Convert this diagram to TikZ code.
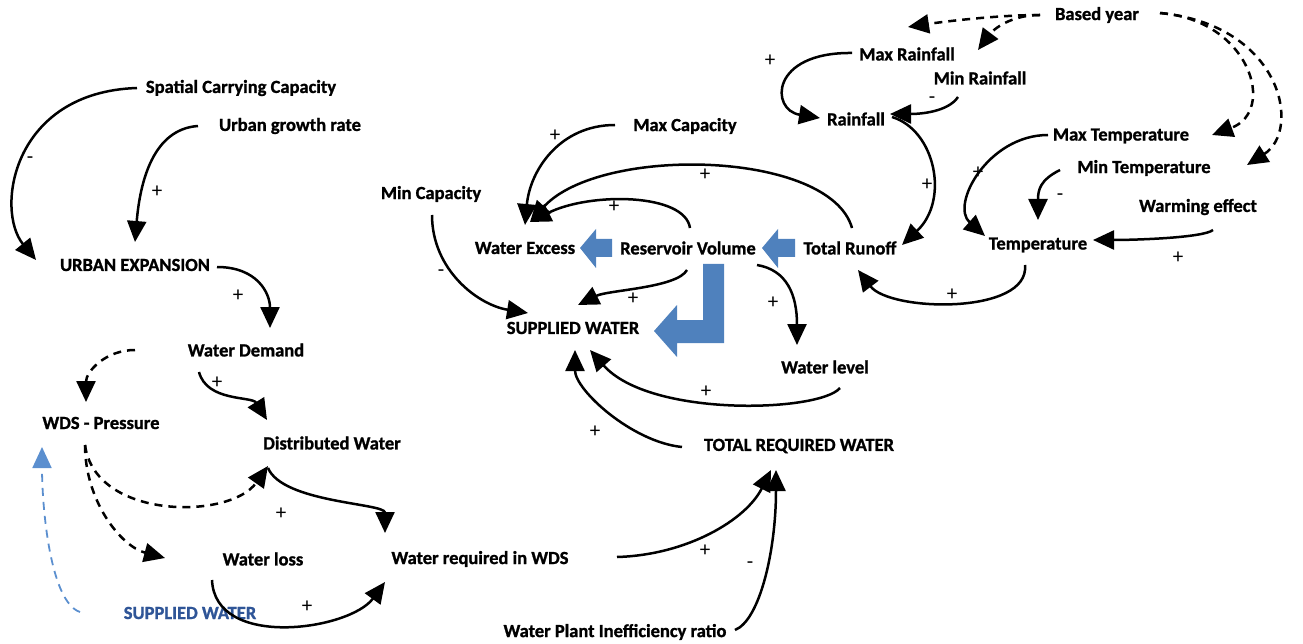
\documentclass[tikz,border=0pt]{standalone}
\usepackage{fontspec}
\setmainfont{Carlito}[BoldFeatures={FakeBold=1.2}]
\usetikzlibrary{arrows.meta,calc}
\definecolor{blk}{HTML}{4F81BD}
\definecolor{swtext}{HTML}{2F5597}
\definecolor{swline}{HTML}{5B8FCF}
\begin{document}
\begin{tikzpicture}[x=1pt,y=-1pt,
  lbl/.style={font=\fontsize{18.5}{20}\selectfont\bfseries, inner sep=1pt},
  sgn/.style={font=\fontsize{21}{21}\selectfont, inner sep=0pt},
  link/.style={line width=2.5pt,-{Triangle[length=21pt,width=19pt]}},
  dlink/.style={link,dash pattern=on 8pt off 6pt},
  blockarrow/.style={fill=blk,draw=none}]
\useasboundingbox (0,0) rectangle (1303,644);

% nodes
\node[lbl] (scc)  at (241,88)  {Spatial Carrying Capacity};
\node[lbl] (ugr)  at (290,126) {Urban growth rate};
\node[lbl] (ue)   at (135,265) {URBAN EXPANSION};
\node[lbl] (wd)   at (246,350) {Water Demand};
\node[lbl] (wdsp) at (101,423) {WDS - Pressure};
\node[lbl] (dw)   at (332,443) {Distributed Water};
\node[lbl] (wl)   at (263,559) {Water loss};
\node[lbl] (wrw)  at (480,559) {Water required in WDS};
\node[lbl,text=swtext] (sw2) at (190,613) {SUPPLIED WATER};
\node[lbl] (wpir) at (615,632) {Water Plant Inefficiency ratio};
\node[lbl] (trw)  at (799,446) {TOTAL REQUIRED WATER};
\node[lbl] (wlev) at (825,367) {Water level};
\node[lbl] (sw)   at (573,328) {SUPPLIED WATER};
\node[lbl] (wex)  at (525,248) {Water Excess};
\node[lbl] (rv)   at (688,248) {Reservoir Volume};
\node[lbl] (tr)   at (850,248) {Total Runoff};
\node[lbl] (minc) at (431,194) {Min Capacity};
\node[lbl] (maxc) at (685,126) {Max Capacity};
\node[lbl] (rain) at (856,119) {Rainfall};
\node[lbl] (maxr) at (907,54)  {Max Rainfall};
\node[lbl] (minr) at (980,78)  {Min Rainfall};
\node[lbl] (by)   at (1097,15) {Based year};
\node[lbl] (maxt) at (1121,136) {Max Temperature};
\node[lbl] (mint) at (1144,168) {Min Temperature};
\node[lbl] (warm) at (1198,207) {Warming effect};
\node[lbl] (temp) at (1038,245) {Temperature};

% block arrows
\fill[blockarrow] (580,248) -- (596,229) -- (596,239) -- (612,239) -- (612,257) -- (596,257) -- (596,268) -- cycle;
\fill[blockarrow] (762,248) -- (778,229) -- (778,239) -- (795,239) -- (795,257) -- (778,257) -- (778,268) -- cycle;
\fill[blockarrow] (703,264) -- (724,264) -- (724,343) -- (677,343) -- (677,357) -- (654,331) -- (677,305) -- (677,320) -- (703,320) -- cycle;

% connectors
\draw[link] ($(scc)+(-104,0)$) .. controls +(-125,4) and +(-41,-50) .. ($(ue)+(-99,-5)$);
\draw[link] ($(ugr)+(-92,0)$) .. controls +(-45,3) and +(5,-60) .. ($(ue)+(0,-23)$);
\draw[link] ($(ue)+(82,2)$) .. controls +(40,0) and +(0,-35) .. ($(wd)+(24,-22)$);
\draw[dlink] ($(wd)+(-111,0)$) .. controls +(-30,0) and +(0,-30) .. ($(wdsp)+(-15,-21)$);
\draw[link] ($(wd)+(-47,22)$) .. controls +(8,30) and +(-15,-24) .. ($(dw)+(-65,-23)$);
\draw[dlink] ($(wdsp)+(-16,22)$) .. controls +(10,75) and +(-38,54) .. ($(dw)+(-64,23)$);
\draw[dlink] ($(wdsp)+(-16,22)$) .. controls +(0,55) and +(-45,-12) .. ($(wl)+(-98,-1)$);
\draw[link] ($(dw)+(-64,25)$) .. controls +(15,35) and +(0,-30) .. ($(wrw)+(-95,-26)$);
\draw[link] ($(wl)+(-51,21)$) .. controls +(3,70) and +(-35,48) .. ($(wrw)+(-95,23)$);
\draw[dlink,draw=swline,line width=1.8pt] ($(sw2)+(-110,-1)$) .. controls +(-30,-10) and +(0,60) .. ($(wdsp)+(-59,24)$);
\draw[link] ($(wrw)+(137,-2)$) .. controls +(70,-2) and +(-25,50) .. ($(trw)+(-28,24)$);
\draw[link] ($(wpir)+(120,-2)$) .. controls +(25,-10) and +(0,80) .. ($(trw)+(-23,24)$);
\draw[link] ($(trw)+(-117,1)$) .. controls +(-50,-5) and +(0,40) .. ($(sw)+(2,22)$);
\draw[link] ($(wlev)+(15,21)$) .. controls +(-20,24) and +(60,68) .. ($(sw)+(17,22)$);
\draw[link] ($(rv)+(69,17)$) .. controls +(30,5) and +(0,-50) .. ($(wlev)+(-28,-22)$);
\draw[link] ($(rv)+(-1,22)$) .. controls +(-10,18) and +(30,-15) .. ($(sw)+(5,-23)$);
\draw[link] ($(minc)+(1,21)$) .. controls +(0,55) and +(-50,-8) .. ($(sw)+(-45,-15)$);
\draw[link] ($(maxc)+(-70,-1)$) .. controls +(-55,0) and +(5,-55) .. ($(wex)+(0,-23)$);
\draw[link] ($(rv)+(2,-20)$) .. controls +(-5,-35) and +(60,-30) .. ($(wex)+(5,-26)$);
\draw[link] ($(tr)+(2,-20)$) .. controls +(-22,-78) and +(70,-77) .. ($(wex)+(5,-26)$);
\draw[link] ($(rain)+(36,-2)$) .. controls +(43,13) and +(48,-45) .. ($(tr)+(52,-3)$);
\draw[link] ($(maxr)+(-55,-1)$) .. controls +(-82,-1) and +(-50,-8) .. ($(rain)+(-36,-1)$);
\draw[link] ($(minr)+(-22,19)$) .. controls +(-10,15) and +(30,0) .. ($(rain)+(34,-5)$);
\draw[dlink] ($(by)+(-57,0)$) .. controls +(-40,0) and +(40,-6) .. ($(maxr)+(1,-27)$);
\draw[dlink] ($(by)+(-57,0)$) .. controls +(-30,0) and +(15,-20) .. ($(minr)+(-2,-28)$);
\draw[dlink] ($(by)+(63,-2)$) .. controls +(90,7) and +(65,-24) .. ($(maxt)+(91,-1)$);
\draw[dlink] ($(by)+(63,-2)$) .. controls +(122,12) and +(55,-35) .. ($(mint)+(103,-3)$);
\draw[link] ($(maxt)+(-73,-1)$) .. controls +(-60,0) and +(-35,-31) .. ($(temp)+(-53,-9)$);
\draw[link] ($(mint)+(-84,2)$) .. controls +(-20,10) and +(0,-30) .. ($(temp)+(0,-25)$);
\draw[link] ($(warm)+(15,23)$) .. controls +(-10,8) and +(40,0) .. ($(temp)+(55,-5)$);
\draw[link] ($(temp)+(-13,20)$) .. controls +(5,50) and +(32,42) .. ($(tr)+(8,22)$);

% signs
\node[sgn] (s1)  at (30,160)  {-};
\node[sgn] (s2)  at (157,192) {+};
\node[sgn] (s3)  at (238,296) {+};
\node[sgn] (s4)  at (217,383) {+};
\node[sgn] (s5)  at (281,514) {+};
\node[sgn] (s6)  at (307,607) {+};
\node[sgn] (s7)  at (705,551) {+};
\node[sgn] (s8)  at (750,565) {-};
\node[sgn] (s9)  at (595,432) {+};
\node[sgn] (s10) at (706,392) {+};
\node[sgn] (s11) at (773,303) {+};
\node[sgn] (s12) at (633,299) {+};
\node[sgn] (s13) at (441,273) {-};
\node[sgn] (s14) at (555,136) {+};
\node[sgn] (s15) at (614,207) {+};
\node[sgn] (s16) at (705,175) {+};
\node[sgn] (s17) at (927,185) {+};
\node[sgn] (s18) at (770,61)  {+};
\node[sgn] (s19) at (932,100) {-};
\node[sgn] (s20) at (978,173) {+};
\node[sgn] (s21) at (1060,197) {-};
\node[sgn] (s22) at (1178,258) {+};
\node[sgn] (s23) at (952,295) {+};
\end{tikzpicture}
\end{document}
